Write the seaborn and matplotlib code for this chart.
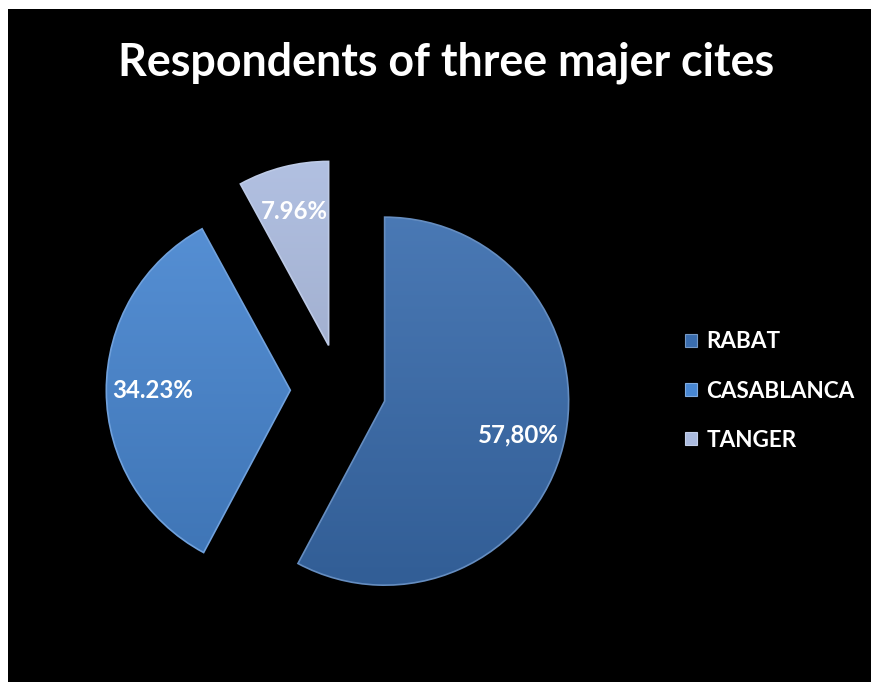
import numpy as np
import matplotlib
matplotlib.use("Agg")
import matplotlib.pyplot as plt
import seaborn as sns
from matplotlib.patches import Rectangle
from matplotlib.colors import LinearSegmentedColormap, to_rgb

# Survey data
cities = ["RABAT", "CASABLANCA", "TANGER"]
shares = [57.80, 34.23, 7.96]
decimal_marks = [",", ".", "."]
title = "Respondents of three majer cites"

sns.set_theme(style="white")
plt.rcParams["font.family"] = ["Lato", "DejaVu Sans"]

palette = sns.color_palette(["#3A6DAE", "#4887D2", "#ABBBDF"])

W, H = 871, 682
fig = plt.figure(figsize=(W / 100, H / 100), dpi=100, facecolor="white")
fig.patches.append(Rectangle((8 / W, -0.05), 1.1, (H - 9) / H + 0.05, transform=fig.transFigure,
                             facecolor="black", edgecolor="none", zorder=-5))

# pie axes: centre and radius in pixels
cx, cy, r = 340, 390, 184
half = 1.5 * r
ax = fig.add_axes([(cx - half) / W, (H - cy - half) / H, 2 * half / W, 2 * half / H])
ax.set_facecolor("none")
ax.set_zorder(2)

wedges, _ = ax.pie(shares, explode=[0.25, 0.27, 0.25], colors=palette,
                   startangle=90, counterclock=False, radius=1.0)


def shade(c, f):
    c = np.array(to_rgb(c))
    if f >= 0:
        return tuple(c + (1 - c) * f)
    return tuple(c * (1 + f))


grad = np.linspace(0, 1, 256).reshape(-1, 1)
for w, col in zip(wedges, palette):
    x0, y0 = w.center
    rr = w.r
    cmap = LinearSegmentedColormap.from_list("g", [shade(col, 0.08), shade(col, -0.14)])
    im = ax.imshow(grad, cmap=cmap, extent=[x0 - rr, x0 + rr, y0 - rr, y0 + rr],
                   origin="upper", aspect="auto", zorder=2, interpolation="bilinear")
    im.set_clip_path(w)
    w.set_facecolor("none")
    w.set_edgecolor(shade(col, 0.22))
    w.set_linewidth(1.2)
    w.set_zorder(3)

# percentage labels inside each slice
for w, v, mark in zip(wedges, shares, decimal_marks):
    mid = np.deg2rad((w.theta1 + w.theta2) / 2)
    x0, y0 = w.center
    ax.text(x0 + 0.75 * np.cos(mid), y0 + 0.75 * np.sin(mid),
            f"{v:.2f}".replace(".", mark) + "%",
            ha="center", va="center", color="white", fontsize=17.3,
            fontweight="bold", zorder=5)

ax.set_xlim(-1.5, 1.5)
ax.set_ylim(-1.5, 1.5)
ax.set_aspect("equal")
ax.axis("off")

fig.text(446 / W, 1 - 76 / H, title, ha="center", va="baseline", color="white",
         fontsize=32.2, fontweight="bold")

handles = [Rectangle((0, 0), 1, 1, facecolor=c, edgecolor=shade(c, 0.3), linewidth=0.8)
           for c in palette]
fig.legend(handles, cities, loc="center left", bbox_to_anchor=(685 / W, 1 - 391 / H),
           frameon=False, labelcolor="white",
           prop=dict(weight="bold", size=16.2, family=["Lato", "DejaVu Sans"]),
           handlelength=0.55, handleheight=0.55, handletextpad=0.4,
           labelspacing=1.25, borderaxespad=0, borderpad=0)

fig.savefig("out.png", dpi=100, facecolor=fig.get_facecolor())
